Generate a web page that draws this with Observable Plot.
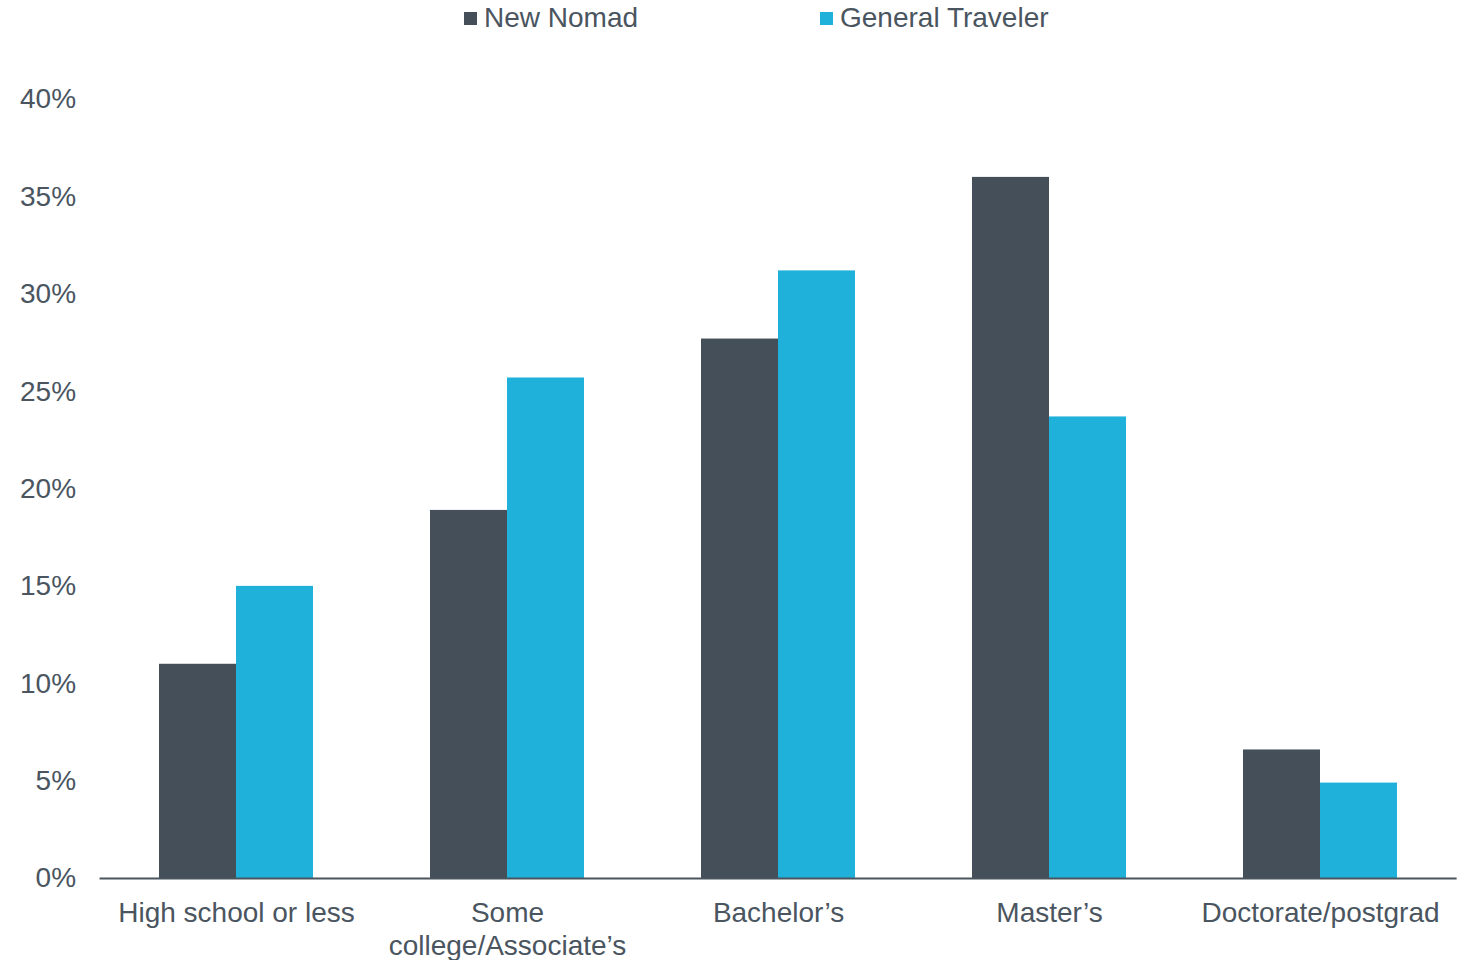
<!DOCTYPE html>
<html>
<head>
<meta charset="utf-8">
<script src="https://cdn.jsdelivr.net/npm/d3@7"></script>
<script src="https://cdn.jsdelivr.net/npm/@observablehq/plot@0.6"></script>
<style>
  body { margin: 0; background: #fff; font-family: "Liberation Sans", Arial, sans-serif; }
  #wrap { position: relative; width: 1463px; height: 960px; }
  #legend { position: relative; height: 38px; }
  .item { position: absolute; top: 2px; display: flex; align-items: center; font-size: 28px; color: #4a555f; line-height: 32px; }
  .sw { width: 13px; height: 13px; margin-right: 7px; }
</style>
</head>
<body>
<div id="wrap">
  <div id="legend"></div>
  <div id="chart"></div>
</div>
<script>
const categories = ["High school or less", "Some college/Associate's", "Bachelor's", "Master's", "Doctorate/postgrad"];
const tickLabels = ["High school or less", "Some\ncollege/Associate’s", "Bachelor’s", "Master’s", "Doctorate/postgrad"];
const seriesNames = ["New Nomad", "General Traveler"];
const newNomad = [11.0, 18.9, 27.7, 36.0, 6.6];
const generalTraveler = [15.0, 25.7, 31.2, 23.7, 4.9];
const colors = ["#454f59", "#1fb1da"];
const yTicks = [0, 5, 10, 15, 20, 25, 30, 35, 40];

const data = [];
categories.forEach((c, i) => {
  data.push({category: c, series: seriesNames[0], value: newNomad[i]});
  data.push({category: c, series: seriesNames[1], value: generalTraveler[i]});
});

// legend
const legend = document.getElementById("legend");
const legendX = [464, 820];
seriesNames.forEach((s, i) => {
  const d = document.createElement("div");
  d.className = "item";
  d.style.left = legendX[i] + "px";
  d.innerHTML = `<span class="sw" style="background:${colors[i]}"></span><span>${s}</span>`;
  legend.appendChild(d);
});

const labelMap = new Map(categories.map((c, i) => [c, tickLabels[i]]));

const W = 1463, ML = 99, MR = 5;
const pInner = 0.43, pOuter = 0.215;
const step = (W - ML - MR) / (categories.length - pInner + 2 * pOuter);
const outerOffset = pOuter * step;          // gap between frame left and first group
const bandwidth = step * (1 - pInner);
const rightExtend = (W - MR) - (ML + outerOffset + bandwidth);

const baseline = [{category: categories[0], value: 0}];

const chart = Plot.plot({
  width: W,
  height: 922,
  marginLeft: ML,
  marginRight: MR,
  marginTop: 61,
  marginBottom: 82,
  style: {fontFamily: "'Liberation Sans', Arial, sans-serif", fontSize: "28px", color: "#4a555f", background: "#fff"},
  fx: {domain: categories, paddingInner: pInner, paddingOuter: pOuter, label: null},
  x: {domain: seriesNames, padding: 0, axis: null},
  y: {domain: [0, 40], label: null},
  color: {domain: seriesNames, range: colors},
  marks: [
    Plot.barY(data, {fx: "category", x: "series", y: "value", fill: "series", inset: 0}),
    Plot.ruleY(baseline, {fx: "category", y: "value", stroke: "#4a555f", strokeWidth: 2, insetLeft: -outerOffset - 1, insetRight: -rightExtend + 2}),
    Plot.axisY({ticks: yTicks, tickSize: 0, tickPadding: outerOffset + 25, tickFormat: d => d + "%", fontSize: 28, fill: "#4a555f", label: null}),
    Plot.axisFx({anchor: "bottom", tickSize: 0, tickPadding: 20, tickFormat: d => labelMap.get(d), fontSize: 28, fill: "#4a555f", lineHeight: 1.18, label: null})
  ]
});
document.getElementById("chart").appendChild(chart);
</script>
</body>
</html>
